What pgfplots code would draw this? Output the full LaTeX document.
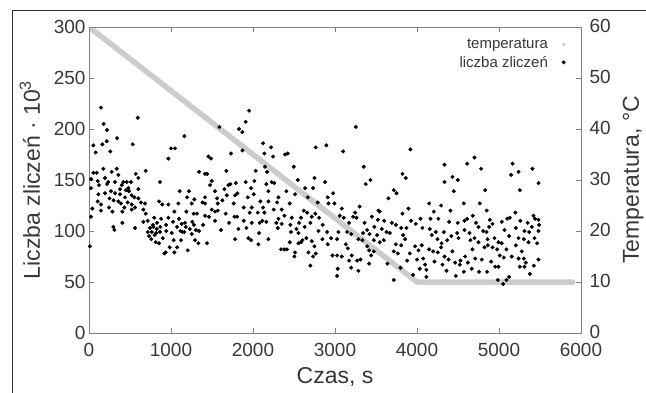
\documentclass[border=0pt]{standalone}
\usepackage{pgfplots}
\pgfplotsset{compat=1.18}
\usepackage{fontspec}
\setmainfont{Liberation Sans}
\definecolor{axgray}{gray}{0.5}
\definecolor{txt}{gray}{0.22}
\definecolor{tgray}{gray}{0.8}
\pgfplotsset{
  common/.style={
    at={(0pt,0pt)}, anchor=south west,
    scale only axis, width=492pt, height=306pt,
    xmin=0, xmax=6000,
    tick align=inside,
    axis line style={axgray, line width=0.9pt},
    major tick style={axgray, line width=0.9pt},
    major tick length=5pt,
    /pgf/number format/assume math mode=true,
    /pgf/number format/1000 sep={},
    ticklabel style={font=\fontsize{19}{21}\selectfont, text=txt},
  }
}
\begin{document}
\begin{tikzpicture}
\path[use as bounding box] (-89pt,-59pt) rectangle (557pt,333pt);
\draw[black!80, line width=0.8pt] (-77pt,-62pt) -- (-77pt,323pt) -- (560pt,323pt);

% temperature axis (right)
\begin{axis}[
  common,
  ymin=0, ymax=60,
  hide x axis,
  axis y line*=right,
  ytick={0,10,...,60},
  yticklabel style={xshift=5pt, yshift=1pt},
  every axis y label/.style={at={(axis description cs:1.1175,0.5)}, anchor=base, rotate=90,
     font=\fontsize{23}{25}\selectfont, text=txt},
  ylabel={Temperatura, °C},
]
\addplot[tgray, line width=5.5pt, line cap=round, line join=round] coordinates {(0,60) (4000,10) (5900,10)};
\end{axis}

% counts axis (left)
\begin{axis}[
  common,
  ymin=0, ymax=300,
  xtick={0,1000,...,6000},
  ytick={0,50,...,300},
  ytick pos=left,
  xtick pos=both,
  xticklabel pos=lower,
  xticklabel style={yshift=-7pt},
  every axis y label/.style={at={(axis description cs:-0.0996,0.5)}, anchor=base, rotate=90,
     font=\fontsize{23}{25}\selectfont, text=txt},
  every axis x label/.style={at={(axis description cs:0.5,-0.1634)}, anchor=base,
     font=\fontsize{23}{25}\selectfont, text=txt},
  xlabel={Czas, s},
  ylabel={Liczba zliczeń · 10\textsuperscript{3}},
  legend plot pos=right,
  legend cell align=right,
  legend style={draw=none, fill=none, at={(axis description cs:0.975,0.975)}, anchor=north east,
     font=\fontsize{15}{17}\selectfont, text=txt, row sep=2pt, column sep=12pt},
]
\addlegendimage{only marks, mark=*, mark size=1.5pt, tgray}
\addlegendentry{temperatura}
\addplot[only marks, mark=*, mark size=1.8pt, black] table {
x y
146 221
594 211
179 205
220 199
53 184
163 185
216 188
342 191
533 185
81 177
260 178
53 157
94 157
175 161
277 158
338 161
358 155
692 159
570 156
24 151
106 149
195 152
235 148
317 148
419 148
460 148
512 148
602 152
866 148
24 142
122 145
220 146
378 141
480 142
602 141
114 136
195 137
268 139
317 137
378 136
488 139
439 133
553 133
602 132
106 129
146 126
358 129
390 127
472 128
521 126
634 128
683 127
854 129
894 126
41 122
146 120
244 123
285 119
431 123
407 119
521 121
561 123
663 121
692 117
24 114
663 109
716 110
407 108
297 104
309 101
561 103
744 103
785 104
826 102
716 99
765 99
866 99
732 95
813 89
854 88
919 78
10 85
780 106
800 96
830 108
870 104
900 93
760 92
940 106
880 112
820 98
795 113
300 130
450 140
520 135
250 132
400 145
1590 202
1830 200
1870 197
1163 193
1000 181
1049 181
968 171
1456 173
1488 171
1732 176
1871 179
1342 158
1415 156
1440 156
1675 159
1497 149
1476 145
1724 146
1790 147
1700 145
1651 141
1106 139
1220 139
1537 139
1781 135
1810 137
1680 135
1196 133
1415 133
1285 131
1562 132
1627 130
1090 127
1253 127
1383 128
1415 127
1570 127
1765 127
968 126
1887 123
1497 121
1041 119
1187 119
1277 117
1317 117
1537 119
1570 120
1667 117
1773 114
1806 114
1415 115
1464 114
968 113
1098 112
1260 109
1537 110
1708 108
1887 110
1025 109
1171 108
1391 106
1074 104
1610 101
1822 102
943 100
1114 100
1139 99
1163 99
1302 101
1342 100
1009 98
1253 97
1033 91
1122 91
1293 91
1334 88
1440 88
1781 92
984 84
1074 84
935 79
1041 79
1204 81
1180 104
1230 102
1130 107
1280 106
1952 218
1911 207
2123 186
2220 182
2139 176
2245 173
2391 175
2424 176
2765 182
2497 163
2147 163
2172 158
2033 159
2546 150
2749 152
2228 148
2260 147
2163 146
1911 148
2017 149
2635 142
2733 142
2407 139
2188 139
2513 136
1976 142
2009 136
1936 133
2310 133
2668 133
2790 128
2090 129
2188 129
2294 128
2448 127
1985 123
2123 123
2253 121
2350 121
2619 120
2660 118
1960 118
2058 118
2139 118
2717 114
2806 113
2383 115
2472 113
2586 113
2310 112
1985 108
2082 108
2114 110
2163 109
2285 108
2350 107
2562 108
2456 106
1920 103
2302 103
2530 102
2554 98
2798 100
2074 98
2464 99
1944 93
1976 91
2188 92
2651 93
2603 91
2717 90
2847 92
2066 87
2448 89
2554 88
2586 89
2749 85
2342 82
2383 82
2415 82
2513 79
2676 79
2765 78
2505 75
2733 75
2700 66
2630 104
2700 108
2850 106
2760 117
3254 202
2895 184
3099 178
3351 163
3823 156
3432 150
3375 146
2879 148
2977 137
2911 133
3717 140
3750 137
3652 132
2993 127
2920 127
3083 122
3245 118
3546 119
3823 117
3058 115
3107 113
3221 114
3262 113
3449 114
3522 111
3693 108
3742 106
3807 103
3172 108
3571 102
3392 101
3343 98
2904 99
3042 99
3148 99
3197 97
3421 97
3628 99
3668 98
3831 96
3514 96
2952 93
3026 92
3286 92
3335 91
3473 91
3546 89
3595 91
3742 87
3807 86
2911 87
3132 87
3156 83
3392 85
3416 81
3473 80
3717 80
3766 78
2969 76
3026 76
3083 75
3205 76
3441 76
3270 71
3311 72
3416 68
3172 71
3197 64
3640 68
3799 64
3034 63
3026 56
3286 61
3717 52
3360 108
3480 104
3600 110
3530 120
3300 124
3920 180
4701 172
4612 166
4335 165
4782 161
4432 153
4497 150
4335 148
3863 152
4449 139
4571 127
4766 127
4148 127
4294 125
3896 122
4205 119
4408 120
3928 110
4042 112
3985 107
4066 103
4164 112
4261 112
4392 109
4497 108
4579 110
4612 112
4750 104
4807 100
4156 102
4229 99
4327 99
4490 98
4579 101
3871 103
4368 91
4506 93
4652 91
4701 93
4750 89
3855 92
3977 85
4058 86
4148 82
4197 80
4294 84
4432 80
4676 82
4823 84
3912 78
4018 81
4254 79
4335 75
4384 72
4530 71
4587 75
4709 73
4790 72
3880 71
4001 72
4075 73
4099 67
4213 70
4311 67
4465 69
4620 69
4668 63
4522 67
4034 63
4115 62
3953 57
4115 55
4360 61
4473 56
4571 60
4757 60
4680 115
4720 108
4850 120
4880 104
4640 98
4860 92
4250 92
4420 95
4180 96
4300 88
5165 166
5408 161
5238 158
5148 155
5482 147
5254 140
4831 140
5132 113
5099 112
5034 109
4888 111
4921 107
5440 112
5481 111
5490 106
5205 103
5067 101
5311 100
5368 99
5481 100
4848 99
4945 93
4994 89
5124 95
5238 93
5303 92
5433 93
5360 89
5465 88
5034 88
4864 86
4921 84
4978 82
5091 82
5205 86
5278 80
5010 76
5059 74
5156 75
5238 73
5303 73
5327 69
5481 72
5425 66
4904 70
4855 60
4953 65
4994 65
5254 65
5311 65
5376 58
4986 52
5051 48
5091 52
5124 55
5260 110
5400 104
5420 115
5350 108
5200 118
};
\addlegendentry{liczba zliczeń}
\end{axis}
\end{tikzpicture}
\end{document}
